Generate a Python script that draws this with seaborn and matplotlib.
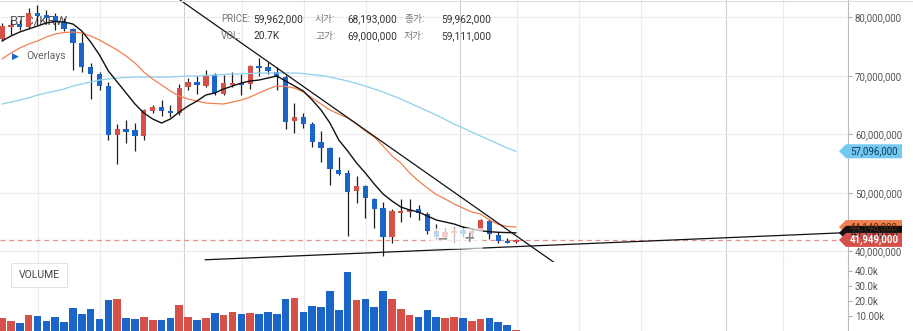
import numpy as np
import pandas as pd
import matplotlib
matplotlib.use("Agg")
import matplotlib.pyplot as plt
import matplotlib.transforms as mtransforms
from matplotlib.patches import Polygon, Rectangle
from matplotlib.lines import Line2D
import seaborn as sns

# ---- daily BTC/KRW candles, prices in million KRW, volume in thousands ----
day = list(range(59))
open_ = [76.29, 78.34, 78.85, 78.34, 80.74, 80.39, 80.22, 79.20, 78.00, 75.61,
         71.50, 70.31, 68.193, 59.88, 60.91, 60.74, 59.71, 63.98, 64.67, 63.98,
         63.64, 68.09, 68.94, 68.26, 70.14, 66.89, 68.43, 68.77, 68.60, 71.68,
         71.50, 70.65, 69.79, 62.27, 62.96, 61.76, 58.68, 57.66, 53.90, 53.38,
         50.31, 51.16, 48.94, 47.40, 42.44, 46.55, 46.72, 47.23, 46.38, 43.47,
         42.44, 43.13, 43.64, 42.96, 43.64, 45.18, 42.79, 41.76, 41.55]
high = [79.03, 79.54, 79.54, 81.59, 82.10, 81.25, 80.74, 79.88, 78.17, 77.32,
        72.19, 70.65, 69.000, 61.76, 62.44, 61.93, 64.32, 65.01, 65.86, 65.01,
        68.60, 69.62, 69.97, 70.99, 70.48, 70.14, 70.65, 70.31, 71.85, 73.04,
        72.36, 71.50, 70.14, 65.35, 63.64, 62.10, 60.56, 57.83, 56.12, 53.90,
        52.87, 51.33, 49.11, 48.43, 47.23, 48.94, 48.94, 47.91, 46.72, 44.67,
        43.98, 44.15, 44.32, 43.98, 45.52, 45.52, 43.30, 42.27, 42.15]
low = [75.95, 76.98, 77.83, 78.17, 78.68, 79.03, 77.83, 77.66, 70.99, 70.65,
       66.03, 67.57, 59.111, 54.92, 58.51, 57.15, 59.03, 63.64, 63.13, 62.96,
       63.30, 67.57, 66.89, 68.09, 66.72, 66.72, 68.09, 66.72, 67.74, 69.97,
       70.31, 67.57, 60.91, 60.22, 61.08, 57.83, 55.26, 51.33, 53.04, 42.62,
       48.26, 45.69, 43.98, 39.20, 41.42, 45.01, 45.86, 45.35, 42.96, 41.93,
       42.27, 41.42, 42.44, 42.44, 43.47, 42.10, 41.42, 41.35, 41.35]
close = [78.51, 78.68, 78.34, 80.74, 80.22, 79.88, 79.37, 78.00, 75.61, 71.50,
         70.31, 68.26, 59.962, 60.91, 60.39, 59.71, 64.15, 64.67, 63.98, 63.64,
         67.91, 68.94, 68.43, 69.97, 67.06, 68.77, 68.77, 68.43, 71.68, 71.33,
         70.82, 69.79, 62.10, 62.96, 61.76, 58.68, 57.66, 54.07, 53.21, 50.14,
         51.16, 49.11, 47.23, 42.44, 46.89, 46.89, 47.23, 46.55, 43.47, 42.44,
         43.30, 43.47, 42.96, 43.47, 45.35, 42.96, 41.76, 41.50, 41.949]
volume_k = [8.9, 6.7, 5.3, 10.7, 10.0, 6.7, 9.3, 6.0, 15.3, 11.3,
            14.7, 8.0, 20.7, 21.6, 8.7, 8.0, 9.3, 7.3, 7.3, 8.7,
            17.3, 9.3, 7.3, 8.7, 12.0, 10.7, 12.7, 11.3, 12.0, 11.3,
            12.7, 11.3, 21.3, 22.0, 12.7, 16.7, 16.0, 26.7, 14.0, 39.3,
            20.7, 21.3, 16.0, 26.7, 21.3, 14.7, 10.7, 9.3, 14.0, 9.3,
            8.7, 9.3, 8.7, 6.7, 8.0, 8.7, 6.0, 4.0, 0.7]

# moving-average overlays (million KRW)
ma_short = [75.95, 76.80, 77.49, 78.00, 78.51, 79.03, 79.28, 79.20, 78.85, 77.66,
            75.78, 73.56, 70.82, 68.94, 67.06, 65.18, 63.64, 62.62, 61.93, 62.62,
            63.81, 64.84, 65.69, 66.72, 67.06, 67.74, 68.26, 68.77, 69.11, 69.28,
            69.62, 69.97, 69.11, 68.26, 67.40, 65.86, 64.15, 61.93, 59.03, 57.15,
            55.10, 53.38, 51.50, 49.79, 48.60, 47.57, 47.06, 46.72, 46.03, 45.35,
            45.01, 44.67, 44.15, 43.81, 43.50, 43.35, 43.25, 43.20, 43.15]
ma_mid = [72.87, 73.90, 74.75, 75.44, 75.95, 76.63, 77.15, 77.40, 77.49, 77.32,
          76.80, 76.12, 75.26, 74.41, 73.38, 72.19, 70.65, 69.45, 68.43, 67.40,
          66.55, 66.03, 65.69, 65.35, 65.26, 65.18, 65.52, 65.86, 66.38, 67.06,
          67.74, 68.26, 68.17, 67.91, 67.23, 66.21, 65.18, 64.15, 63.47, 62.79,
          61.76, 60.56, 59.54, 58.00, 56.29, 55.10, 53.38, 52.02, 50.82, 49.71,
          48.94, 48.09, 47.40, 46.72, 46.38, 45.35, 44.60, 44.25, 44.148]
ma_long = [65.18, 65.52, 65.86, 66.21, 66.72, 67.06, 67.40, 67.74, 68.26, 68.60,
           68.94, 69.28, 69.45, 69.62, 69.71, 69.79, 69.79, 69.79, 69.79, 69.79,
           69.88, 69.97, 69.97, 70.05, 70.14, 70.22, 70.31, 70.31, 70.39, 70.48,
           70.48, 70.48, 70.48, 70.48, 70.39, 70.22, 70.05, 69.79, 69.45, 69.11,
           68.68, 68.26, 67.74, 67.23, 66.63, 66.03, 65.35, 64.67, 63.98, 63.30,
           62.53, 61.76, 61.08, 60.39, 59.71, 59.03, 58.34, 57.66, 57.096]

# hand-drawn trend lines: (day, price) end points
trend_down = ([20.09, 62.5], [82.96, 37.88])
trend_up = ([22.91, 95.46], [38.55, 43.20])

price_ticks = [40, 50, 60, 70, 80]
volume_ticks = [10, 20, 30, 40]
volume_tick_labels = ["10.00k", "20.0k", "30.0k", "40.0k"]
week_lines = [4.06, 11.06, 27.08, 34.08, 41.07, 58.11, 65.11, 72.10, 88.13]
month_lines = [20.54, 51.68, 81.70]
focus_day = 12  # candle shown in the info header

RED, BLUE = "#d6504a", "#1b64c8"
ORANGE, SKY = "#f0804f", "#8dd0ea"

sns.set_theme(style="white")
plt.rcParams["font.family"] = ["Roboto", "Noto Sans CJK KR", "DejaVu Sans"]

df = pd.DataFrame(dict(day=day, open=open_, high=high, low=low, close=close,
                       volume=volume_k))
df["dir"] = np.where(df["close"] >= df["open"], "up", "down")
pal = {"up": RED, "down": BLUE}

W, H = 913, 331
fig = plt.figure(figsize=(W / 100, H / 100), dpi=100, facecolor="white")
ax = fig.add_axes([0, 69 / H, 848 / W, 262 / H])
axv = fig.add_axes([0, 0, 848 / W, 69 / H])
XLIM = (-0.23, 95.46)

for a in (ax, axv):
    a.set_facecolor("white")
    for x in week_lines:
        a.axvline(x, color="#ececec", lw=0.8, zorder=0)
    for x in month_lines:
        a.axvline(x, color="#d0d0d0", lw=0.8, zorder=0)
for y in price_ticks:
    ax.axhline(y, color="#ececec", lw=0.8, zorder=0)

# title and overlay menu sit underneath the candles
ax.text(10 / 848, 1 - 21 / 262, "BTC/KRW", transform=ax.transAxes, fontsize=9.5,
        color="#555555", ha="left", va="center", zorder=1)
ax.text(12 / 848, 1 - 56 / 262, "\u25b6", transform=ax.transAxes, fontsize=6.5,
        color=BLUE, ha="left", va="center", family=["DejaVu Sans"], zorder=1)
ax.text(26 / 848, 1 - 56 / 262, "Overlays", transform=ax.transAxes, fontsize=7.5,
        color="#666666", ha="left", va="center", zorder=1)

# candles
ax.vlines(df["day"], df["low"], df["high"], color="#1e1e1e", lw=0.9, zorder=3)
body_lo = df[["open", "close"]].min(axis=1)
body_h = (df["close"] - df["open"]).abs().clip(lower=0.2)
ax.bar(df["day"], body_h, bottom=body_lo, width=0.6,
       color=df["dir"].map(pal), linewidth=0, zorder=4)

# moving averages
sns.lineplot(x=day, y=ma_long, ax=ax, color=SKY, lw=0.9, zorder=5)
sns.lineplot(x=day, y=ma_mid, ax=ax, color=ORANGE, lw=0.9, zorder=5)
sns.lineplot(x=day, y=ma_short, ax=ax, color="#111111", lw=1.0, zorder=6)

# trend lines
ax.plot(*trend_down, color="#111111", lw=0.9, zorder=6)
ax.plot(*trend_up, color="#111111", lw=0.9, zorder=6)

# last price
last = close[-1]
ax.axhline(last, color="#e59090", lw=0.9, ls=(0, (4, 3)), zorder=2)

ax.set_xlim(*XLIM)
ax.set_ylim(38.17, 82.96)
ax.yaxis.tick_right()
ax.set_yticks(price_ticks)
ax.set_yticklabels([f"{int(v * 1e6):,}" for v in price_ticks])
ax.set_xticks([])
ax.tick_params(axis="y", length=3, width=0.6, color="#999999", labelsize=7,
               labelcolor="#555555", pad=2, right=True)
ax.set_xlabel("")
ax.set_ylabel("")

# volume
sns.barplot(data=df, x="day", y="volume", hue="dir", palette=pal,
            native_scale=True, width=0.86, dodge=False, legend=False,
            errorbar=None, saturation=1, linewidth=0, ax=axv)
axv.set_xlim(*XLIM)
axv.set_ylim(0, 46)
axv.yaxis.tick_right()
axv.set_yticks(volume_ticks)
axv.set_yticklabels(volume_tick_labels)
axv.set_xticks([])
axv.tick_params(axis="y", length=3, width=0.6, color="#999999", labelsize=7,
                labelcolor="#555555", pad=2, right=True)
axv.set_xlabel("")
axv.set_ylabel("")
axv.text(39 / 848, (331 - 275) / 69, "VOLUME", transform=axv.transAxes,
         fontsize=7.5, color="#444444", ha="center", va="center",
         bbox=dict(boxstyle="square,pad=0.7", fc="white", ec="#e2e2e2", lw=0.7))

for a in (ax, axv):
    a.spines["left"].set_visible(False)
    a.spines["top"].set_visible(False)
    a.spines["right"].set_color("#bbbbbb")
    a.spines["right"].set_linewidth(0.8)
ax.spines["bottom"].set_color("#cccccc")
ax.spines["bottom"].set_linewidth(0.8)
axv.spines["bottom"].set_visible(False)
fig.add_artist(Line2D([0, 1], [1 - 0.6 / H] * 2, color="#dddddd", lw=0.8))

# info header for the focused candle
row = df.iloc[focus_day]
fmt = lambda v: f"{int(round(v * 1e6)):,}"
hdr = [
    (221, 19, "PRICE:", 253, fmt(row["close"])),
    (315, 19, "시가:", 347, fmt(row["open"])),
    (404, 19, "종가:", 441, fmt(row["close"])),
    (221, 36, "VOL:", 253, f"{row['volume']:.1f}K"),
    (315, 36, "고가:", 347, fmt(row["high"])),
    (404, 36, "저가:", 441, fmt(row["low"])),
]
for xl, yy, lab, xv, val in hdr:
    fig.text(xl / W, 1 - yy / H, lab, fontsize=7, color="#777777",
             ha="left", va="center")
    fig.text(xv / W, 1 - yy / H, val, fontsize=7.3, color="#333333",
             ha="left", va="center")

# zoom toolbar floating over the latest candles
fig.add_artist(Rectangle((430 / W, 1 - 248 / H), 52 / W, 20 / H,
                         transform=fig.transFigure, fc="white", ec="#eeeeee",
                         lw=0.5, alpha=0.72, zorder=3))
fig.text(442 / W, 1 - 238 / H, "\u2212", fontsize=10, color="#8a8a8a",
         ha="center", va="center", weight="bold", zorder=4,
         family=["DejaVu Sans"])
fig.text(469 / W, 1 - 238 / H, "+", fontsize=10, color="#8a8a8a",
         ha="center", va="center", weight="bold", zorder=4,
         family=["DejaVu Sans"])


# value badges on the price scale
def badge(value, face, txt_color, bold=False):
    y = ax.transData.transform((0, value))[1]
    h = 7
    verts = [(839, y), (846, y + h), (902, y + h), (902, y - h), (846, y - h)]
    fig.add_artist(Polygon(verts, closed=True, fc=face, ec="none", zorder=6,
                           transform=mtransforms.IdentityTransform()))
    fig.text(874 / W, y / H, fmt(value), fontsize=7, color=txt_color,
             ha="center", va="center", weight="bold" if bold else "normal",
             zorder=7)


badge(ma_long[-1], "#72c8f0", "#163a5c")
badge(ma_mid[-1], ORANGE, "#5a2a10")
badge(ma_short[-1], "#111111", "#222222")
badge(last, RED, "white", bold=True)

fig.savefig("out.png", dpi=100, facecolor="white")
